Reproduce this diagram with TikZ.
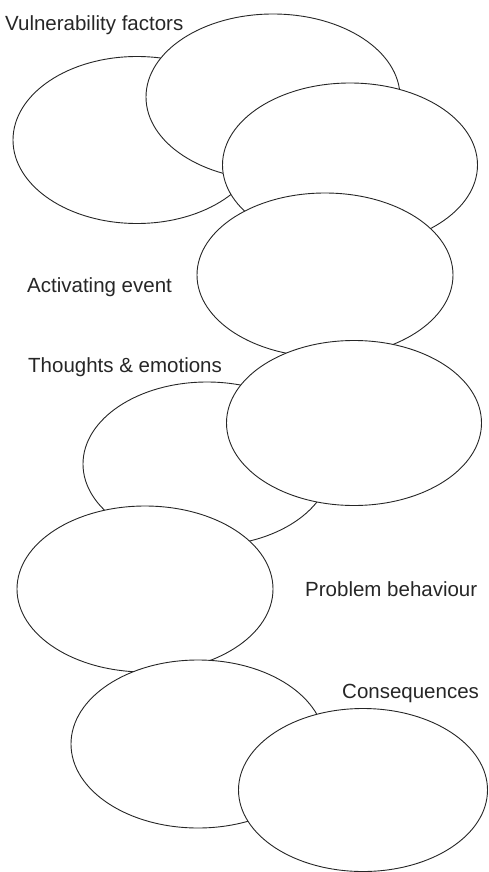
\documentclass[tikz,border=0pt]{standalone}
\usepackage{fontspec}
\setmainfont{Liberation Sans}
\usetikzlibrary{shapes.geometric}
\begin{document}
\begin{tikzpicture}[x=1pt,y=-1pt,
  blob/.style={ellipse,draw=black!85,line width=0.9pt,fill=white,inner sep=0pt},
  lbl/.style={anchor=base west,inner sep=0pt,font=\fontsize{20.5}{24}\selectfont,text=black!85}]
\useasboundingbox (0,0) rectangle (489,872);
\node[blob,minimum width=248pt,minimum height=167pt] (e1) at (137,140) {};
\node[blob,minimum width=254pt,minimum height=166pt] (e2) at (273,97) {};
\node[blob,minimum width=255pt,minimum height=164pt] (e3) at (350,165) {};
\node[blob,minimum width=256pt,minimum height=164pt] (e4) at (325,275) {};
\node[blob,minimum width=248pt,minimum height=164pt] (e5) at (207,464) {};
\node[blob,minimum width=255pt,minimum height=165pt] (e6) at (354,423) {};
\node[blob,minimum width=256pt,minimum height=166pt] (e7) at (145,589) {};
\node[blob,minimum width=254pt,minimum height=168pt] (e8) at (198,744) {};
\node[blob,minimum width=249pt,minimum height=163pt] (e9) at (363,790) {};
\node[lbl] (t1) at (5,31) {Vulnerability factors};
\node[lbl] (t2) at (27,292) {Activating event};
\node[lbl] (t3) at (28,372) {Thoughts \& emotions};
\node[lbl] (t4) at (305,596) {Problem behaviour};
\node[lbl] (t5) at (342,698) {Consequences};
\end{tikzpicture}
\end{document}
